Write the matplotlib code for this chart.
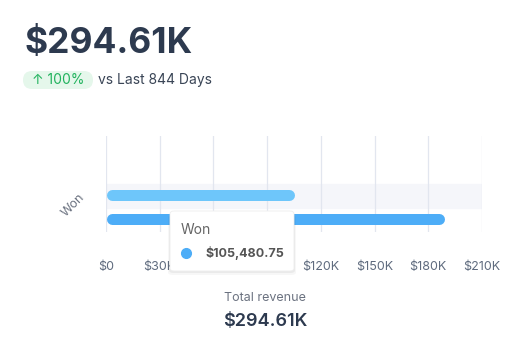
import matplotlib.pyplot as plt
from matplotlib.patches import FancyBboxPatch

plt.rcParams['font.family'] = ['Inter', 'DejaVu Sans']

# data
category = 'Won'
values = [105480.75, 189129.25]
bar_colors = ['#6ec6fa', '#4dadf7']
xticks = [0, 30000, 60000, 90000, 120000, 150000, 180000, 210000]
xtick_labels = ['$0', '$30K', '$60K', '$90K', '$120K', '$150K', '$180K', '$210K']
headline = '$294.61K'
change = '↑ 100%'
period = 'vs Last 844 Days'
total_label = 'Total revenue'
total_value = '$294.61K'

W, H = 529, 355
fig = plt.figure(figsize=(W / 100, H / 100), dpi=100)
fig.patch.set_facecolor('white')


def fx(px):
    return px / W


def fy(py):
    return 1 - py / H


ax = fig.add_axes([fx(106), fy(232), fx(482) - fx(106), fy(136) - fy(232)])
ax.set_xlim(0, 210000)
ax.set_ylim(1.542, -2.458)
ax.set_xticks(xticks)
ax.set_xticklabels(xtick_labels)
ax.set_yticks([])
ax.tick_params(axis='x', length=0, pad=21, labelsize=9, labelcolor='#5f6b7e')
for s in ax.spines.values():
    s.set_visible(False)
ax.grid(axis='x', color='#e2e6ef', lw=0.9)
ax.set_axisbelow(True)
ax.axhspan(-0.46, 0.54, color='#f5f6fa', zorder=0.5)

# rounded bars: line with round caps, pulled in by half the linewidth
lw_px = 11
px_per_unit = (482 - 106) / 210000
cap = (lw_px / 2) / px_per_unit
for i, (v, c) in enumerate(zip(values, bar_colors)):
    ax.plot([cap, v - cap], [i, i], color=c, lw=lw_px * 0.72,
            solid_capstyle='round', zorder=3)

fig.text(fx(73), fy(205), category, rotation=45, ha='center', va='center',
         fontsize=9, color='#6b7280')

# header
fig.text(fx(24), fy(43), headline, fontsize=25.5, fontweight='bold',
         color='#2d3a4f', ha='left', va='center')
badge = FancyBboxPatch((fx(23), fy(89)), fx(93) - fx(23), fy(71) - fy(89),
                       boxstyle='round,pad=0,rounding_size=0.017',
                       transform=fig.transFigure, facecolor='#e5f7eb',
                       edgecolor='none', mutation_aspect=W / H)
fig.add_artist(badge)
fig.text(fx(58), fy(80), change, fontsize=10, color='#22b35e',
         ha='center', va='center')
fig.text(fx(98), fy(80), period, fontsize=10, color='#3a4556',
         ha='left', va='center')

# tooltip
for k, a in [(4, 0.03), (2, 0.05)]:
    sh = FancyBboxPatch((fx(170 - k / 2), fy(271 + k)), fx(124 + k) - fx(0),
                        fy(211) - fy(271), boxstyle='round,pad=0,rounding_size=0.008',
                        transform=fig.transFigure, facecolor='black', alpha=a,
                        edgecolor='none', zorder=9)
    fig.add_artist(sh)
tip = FancyBboxPatch((fx(170), fy(271)), fx(124), fy(211) - fy(271),
                     boxstyle='round,pad=0,rounding_size=0.008',
                     transform=fig.transFigure, facecolor='white',
                     edgecolor='#eeeeee', lw=0.6, zorder=10)
fig.add_artist(tip)
fig.text(fx(181), fy(230), category, fontsize=10, color='#666666',
         ha='left', va='center', zorder=11)
fig.add_artist(plt.Line2D([fx(186)], [fy(253)], marker='o', markersize=7,
                          color=bar_colors[1], transform=fig.transFigure, zorder=11))
fig.text(fx(205), fy(253), '${:,.2f}'.format(values[0]), fontsize=9,
         fontweight='bold', color='#555555', ha='left', va='center', zorder=11)

# footer
fig.text(fx(265), fy(298), total_label, fontsize=9, color='#6b7280',
         ha='center', va='center')
fig.text(fx(265), fy(321), total_value, fontsize=13, fontweight='semibold',
         color='#2d3a4f', ha='center', va='center')

fig.savefig('out.png', dpi=100, facecolor='white')
